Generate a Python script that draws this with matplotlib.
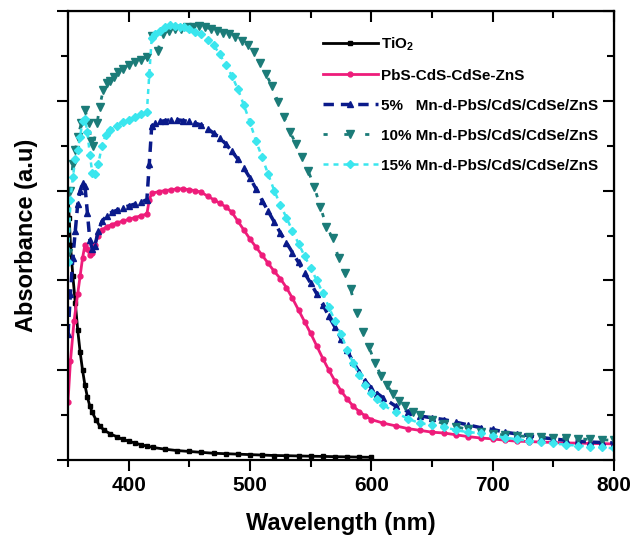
import numpy as np
import matplotlib.pyplot as plt
from matplotlib.ticker import MultipleLocator, NullFormatter

plt.rcParams['font.family'] = ['Liberation Sans', 'DejaVu Sans']
plt.rcParams['font.weight'] = 'bold'
plt.rcParams['mathtext.fontset'] = 'custom'
plt.rcParams['mathtext.rm'] = 'Liberation Sans:bold'
plt.rcParams['mathtext.it'] = 'Liberation Sans:bold'
plt.rcParams['mathtext.bf'] = 'Liberation Sans:bold'

# TiO2
wl_tio2 = [350, 351, 352, 354, 356, 358, 360, 362, 364, 366, 368, 370, 373, 376, 380, 385,
           390, 395, 400, 405, 410, 415, 420, 430, 440, 450, 460, 470, 480, 490, 500, 510,
           520, 530, 540, 550, 560, 570, 580, 590, 600]
abs_tio2 = [3.0, 2.7, 2.4, 2.05, 1.75, 1.45, 1.2, 1.0, 0.83, 0.7, 0.6, 0.53, 0.45, 0.38, 0.33, 0.29,
            0.26, 0.23, 0.21, 0.19, 0.17, 0.155, 0.14, 0.12, 0.105, 0.095, 0.085, 0.075, 0.07, 0.065, 0.06, 0.055,
            0.05, 0.048, 0.045, 0.042, 0.04, 0.037, 0.035, 0.032, 0.03]

# PbS-CdS-CdSe-ZnS
wl_pbs = [350, 352, 355, 358, 360, 362, 364, 366, 368, 370, 372, 375, 378, 382, 386, 390,
          395, 400, 405, 410, 415, 417, 419, 425, 430, 435, 440, 445, 450, 455, 460, 465,
          470, 475, 480, 485, 490, 495, 500, 505, 510, 515, 520, 525, 530, 535, 540, 545,
          550, 555, 560, 565, 570, 575, 580, 585, 590, 595, 600, 610, 620, 630, 640, 650,
          660, 670, 680, 690, 700, 710, 720, 730, 740, 750, 760, 770, 780, 790, 800]
abs_pbs = [0.65, 1.1, 1.55, 1.85, 2.05, 2.25, 2.4, 2.35, 2.28, 2.3, 2.4, 2.5, 2.56, 2.6, 2.62, 2.64,
           2.66, 2.68, 2.7, 2.72, 2.74, 2.9, 2.97, 2.99, 3.0, 3.01, 3.02, 3.02, 3.01, 3.0, 2.98, 2.94,
           2.9, 2.86, 2.82, 2.76, 2.66, 2.56, 2.46, 2.37, 2.28, 2.19, 2.1, 2.02, 1.92, 1.8, 1.67, 1.54,
           1.41, 1.27, 1.13, 1.0, 0.88, 0.77, 0.68, 0.6, 0.54, 0.49, 0.45, 0.41, 0.38, 0.35, 0.33, 0.31,
           0.3, 0.28, 0.26, 0.245, 0.235, 0.22, 0.21, 0.205, 0.2, 0.195, 0.19, 0.188, 0.185, 0.182, 0.18]

# 5% Mn-d-PbS/CdS/CdSe/ZnS
wl_mn5 = [350, 352, 354, 356, 358, 360, 362, 364, 366, 368, 370, 372, 375, 378, 382, 386,
          390, 395, 400, 405, 410, 415, 417, 419, 422, 426, 430, 435, 440, 445, 450, 455,
          460, 465, 470, 475, 480, 485, 490, 495, 500, 505, 510, 515, 520, 525, 530, 535,
          540, 545, 550, 555, 560, 565, 570, 575, 580, 585, 590, 595, 600, 605, 610, 620,
          630, 640, 650, 660, 670, 680, 690, 700, 710, 720, 730, 740, 750, 760, 770, 780, 790, 800]
abs_mn5 = [1.4, 1.85, 2.25, 2.55, 2.85, 3.0, 3.08, 3.05, 2.75, 2.45, 2.35, 2.38, 2.55, 2.66, 2.72, 2.76,
           2.78, 2.81, 2.83, 2.85, 2.87, 2.9, 3.3, 3.72, 3.75, 3.77, 3.78, 3.79, 3.79, 3.78, 3.77, 3.75,
           3.73, 3.69, 3.64, 3.59, 3.52, 3.44, 3.35, 3.25, 3.14, 3.02, 2.89, 2.77, 2.65, 2.53, 2.42, 2.31,
           2.2, 2.08, 1.97, 1.85, 1.73, 1.6, 1.48, 1.35, 1.22, 1.09, 0.98, 0.88, 0.8, 0.74, 0.69, 0.6,
           0.54, 0.49, 0.47, 0.45, 0.42, 0.39, 0.36, 0.34, 0.31, 0.29, 0.27, 0.25, 0.235, 0.22, 0.21, 0.2, 0.195, 0.19]

# 10% Mn-d-PbS/CdS/CdSe/ZnS
wl_mn10 = [350, 352, 354, 356, 358, 361, 364, 367, 369, 371, 374, 376, 379, 382, 385, 388,
           391, 395, 400, 405, 410, 415, 419, 424, 428, 433, 438, 443, 448, 453, 458, 463,
           468, 473, 478, 483, 488, 493, 498, 503, 508, 513, 518, 523, 528, 533, 538, 543,
           548, 553, 558, 563, 568, 573, 578, 583, 588, 593, 598, 603, 608, 613, 618, 623,
           628, 634, 640, 650, 660, 670, 680, 690, 700, 710, 720, 730, 740, 750, 760, 770, 780, 790, 800]
abs_mn10 = [2.3, 3.0, 3.3, 3.45, 3.6, 3.75, 3.9, 3.75, 3.55, 3.5, 3.75, 3.93, 4.12, 4.2, 4.22, 4.27,
            4.32, 4.36, 4.4, 4.43, 4.46, 4.49, 4.72, 4.56, 4.75, 4.78, 4.8, 4.8, 4.82, 4.82, 4.83, 4.82,
            4.8, 4.78, 4.76, 4.74, 4.71, 4.67, 4.62, 4.54, 4.42, 4.3, 4.17, 3.99, 3.82, 3.65, 3.52, 3.38,
            3.22, 3.04, 2.82, 2.6, 2.47, 2.25, 2.08, 1.9, 1.64, 1.42, 1.26, 1.08, 0.94, 0.83, 0.73, 0.66,
            0.6, 0.54, 0.5, 0.45, 0.4, 0.37, 0.34, 0.31, 0.29, 0.28, 0.27, 0.26, 0.255, 0.25, 0.24, 0.235, 0.23, 0.225, 0.22]

# 15% Mn-d-PbS/CdS/CdSe/ZnS
wl_mn15 = [350, 352, 354, 356, 358, 360, 362, 364, 366, 368, 370, 372, 375, 378, 381, 385,
           390, 395, 400, 405, 410, 415, 417, 419, 422, 426, 430, 434, 438, 442, 446, 450,
           455, 460, 465, 470, 475, 480, 485, 490, 495, 500, 505, 510, 515, 520, 525, 530,
           535, 540, 545, 550, 555, 560, 565, 570, 575, 580, 585, 590, 595, 600, 605, 610,
           620, 630, 640, 650, 660, 670, 680, 690, 700, 710, 720, 730, 740, 750, 760, 770, 780, 790, 800]
abs_mn15 = [2.2, 2.9, 3.15, 3.35, 3.45, 3.6, 3.78, 3.8, 3.65, 3.4, 3.2, 3.18, 3.3, 3.5, 3.62, 3.68,
            3.72, 3.76, 3.79, 3.82, 3.85, 3.88, 4.3, 4.7, 4.74, 4.78, 4.82, 4.85, 4.83, 4.82, 4.82, 4.8,
            4.77, 4.74, 4.68, 4.62, 4.52, 4.4, 4.28, 4.13, 3.95, 3.76, 3.55, 3.37, 3.18, 3.0, 2.84, 2.7,
            2.55, 2.41, 2.27, 2.14, 2.0, 1.86, 1.7, 1.55, 1.4, 1.23, 1.08, 0.95, 0.84, 0.75, 0.68, 0.61,
            0.53, 0.46, 0.41, 0.39, 0.37, 0.33, 0.31, 0.3, 0.27, 0.25, 0.23, 0.215, 0.2, 0.185, 0.17, 0.16, 0.15, 0.14, 0.13]

fig = plt.figure(figsize=(6.32, 5.37), dpi=100)
ax = fig.add_axes([0.1076, 0.1434, 0.864, 0.836])

ax.plot(wl_tio2, abs_tio2, color='black', lw=2, marker='s', ms=3, label='TiO$_2$')
ax.plot(wl_pbs, abs_pbs, color='#EE1C7A', lw=2, marker='o', ms=3.5, label='PbS-CdS-CdSe-ZnS')
ax.plot(wl_mn5, abs_mn5, color='#0A1A8A', lw=2.5, ls=(0, (3, 2)), marker='^', ms=5,
        label='5%   Mn-d-PbS/CdS/CdSe/ZnS')
ax.plot(wl_mn10, abs_mn10, color='#1B7B78', lw=2, ls=(0, (1.5, 6)), marker='v', ms=6,
        label='10% Mn-d-PbS/CdS/CdSe/ZnS')
ax.plot(wl_mn15, abs_mn15, color='#3BE6EE', lw=1.8, ls=(0, (2, 2)), marker='D', ms=4,
        label='15% Mn-d-PbS/CdS/CdSe/ZnS')

ax.set_xlim(350, 800)
ax.set_ylim(0, 5)
ax.xaxis.set_major_locator(MultipleLocator(100))
ax.xaxis.set_minor_locator(MultipleLocator(50))
ax.yaxis.set_major_locator(MultipleLocator(1))
ax.yaxis.set_minor_locator(MultipleLocator(0.5))
ax.yaxis.set_major_formatter(NullFormatter())
ax.tick_params(which='both', direction='out', width=1.5, labelsize=15)
ax.tick_params(which='major', length=8)
ax.tick_params(which='minor', length=5)
for s in ax.spines.values():
    s.set_linewidth(1.6)

# mirrored axes with inward ticks
secx = ax.secondary_xaxis('top')
secx.xaxis.set_major_locator(MultipleLocator(100))
secx.xaxis.set_minor_locator(MultipleLocator(50))
secx.tick_params(which='both', direction='in', width=1.5, labeltop=False)
secx.tick_params(which='major', length=8)
secx.tick_params(which='minor', length=5)
secy = ax.secondary_yaxis('right')
secy.yaxis.set_major_locator(MultipleLocator(1))
secy.yaxis.set_minor_locator(MultipleLocator(0.5))
secy.tick_params(which='both', direction='in', width=1.5, labelright=False)
secy.tick_params(which='major', length=8)
secy.tick_params(which='minor', length=5)

ax.set_xlabel('Wavelength (nm)', fontsize=17, fontweight='bold', labelpad=12)
ax.set_ylabel('Absorbance (a.u)', fontsize=17, fontweight='bold', labelpad=10)

ax.legend(loc='upper left', bbox_to_anchor=(0.455, 0.96), frameon=False, fontsize=11,
          handlelength=3.6, labelspacing=1.05, handletextpad=0.2, borderaxespad=0)

fig.savefig('out.png', dpi=100)
